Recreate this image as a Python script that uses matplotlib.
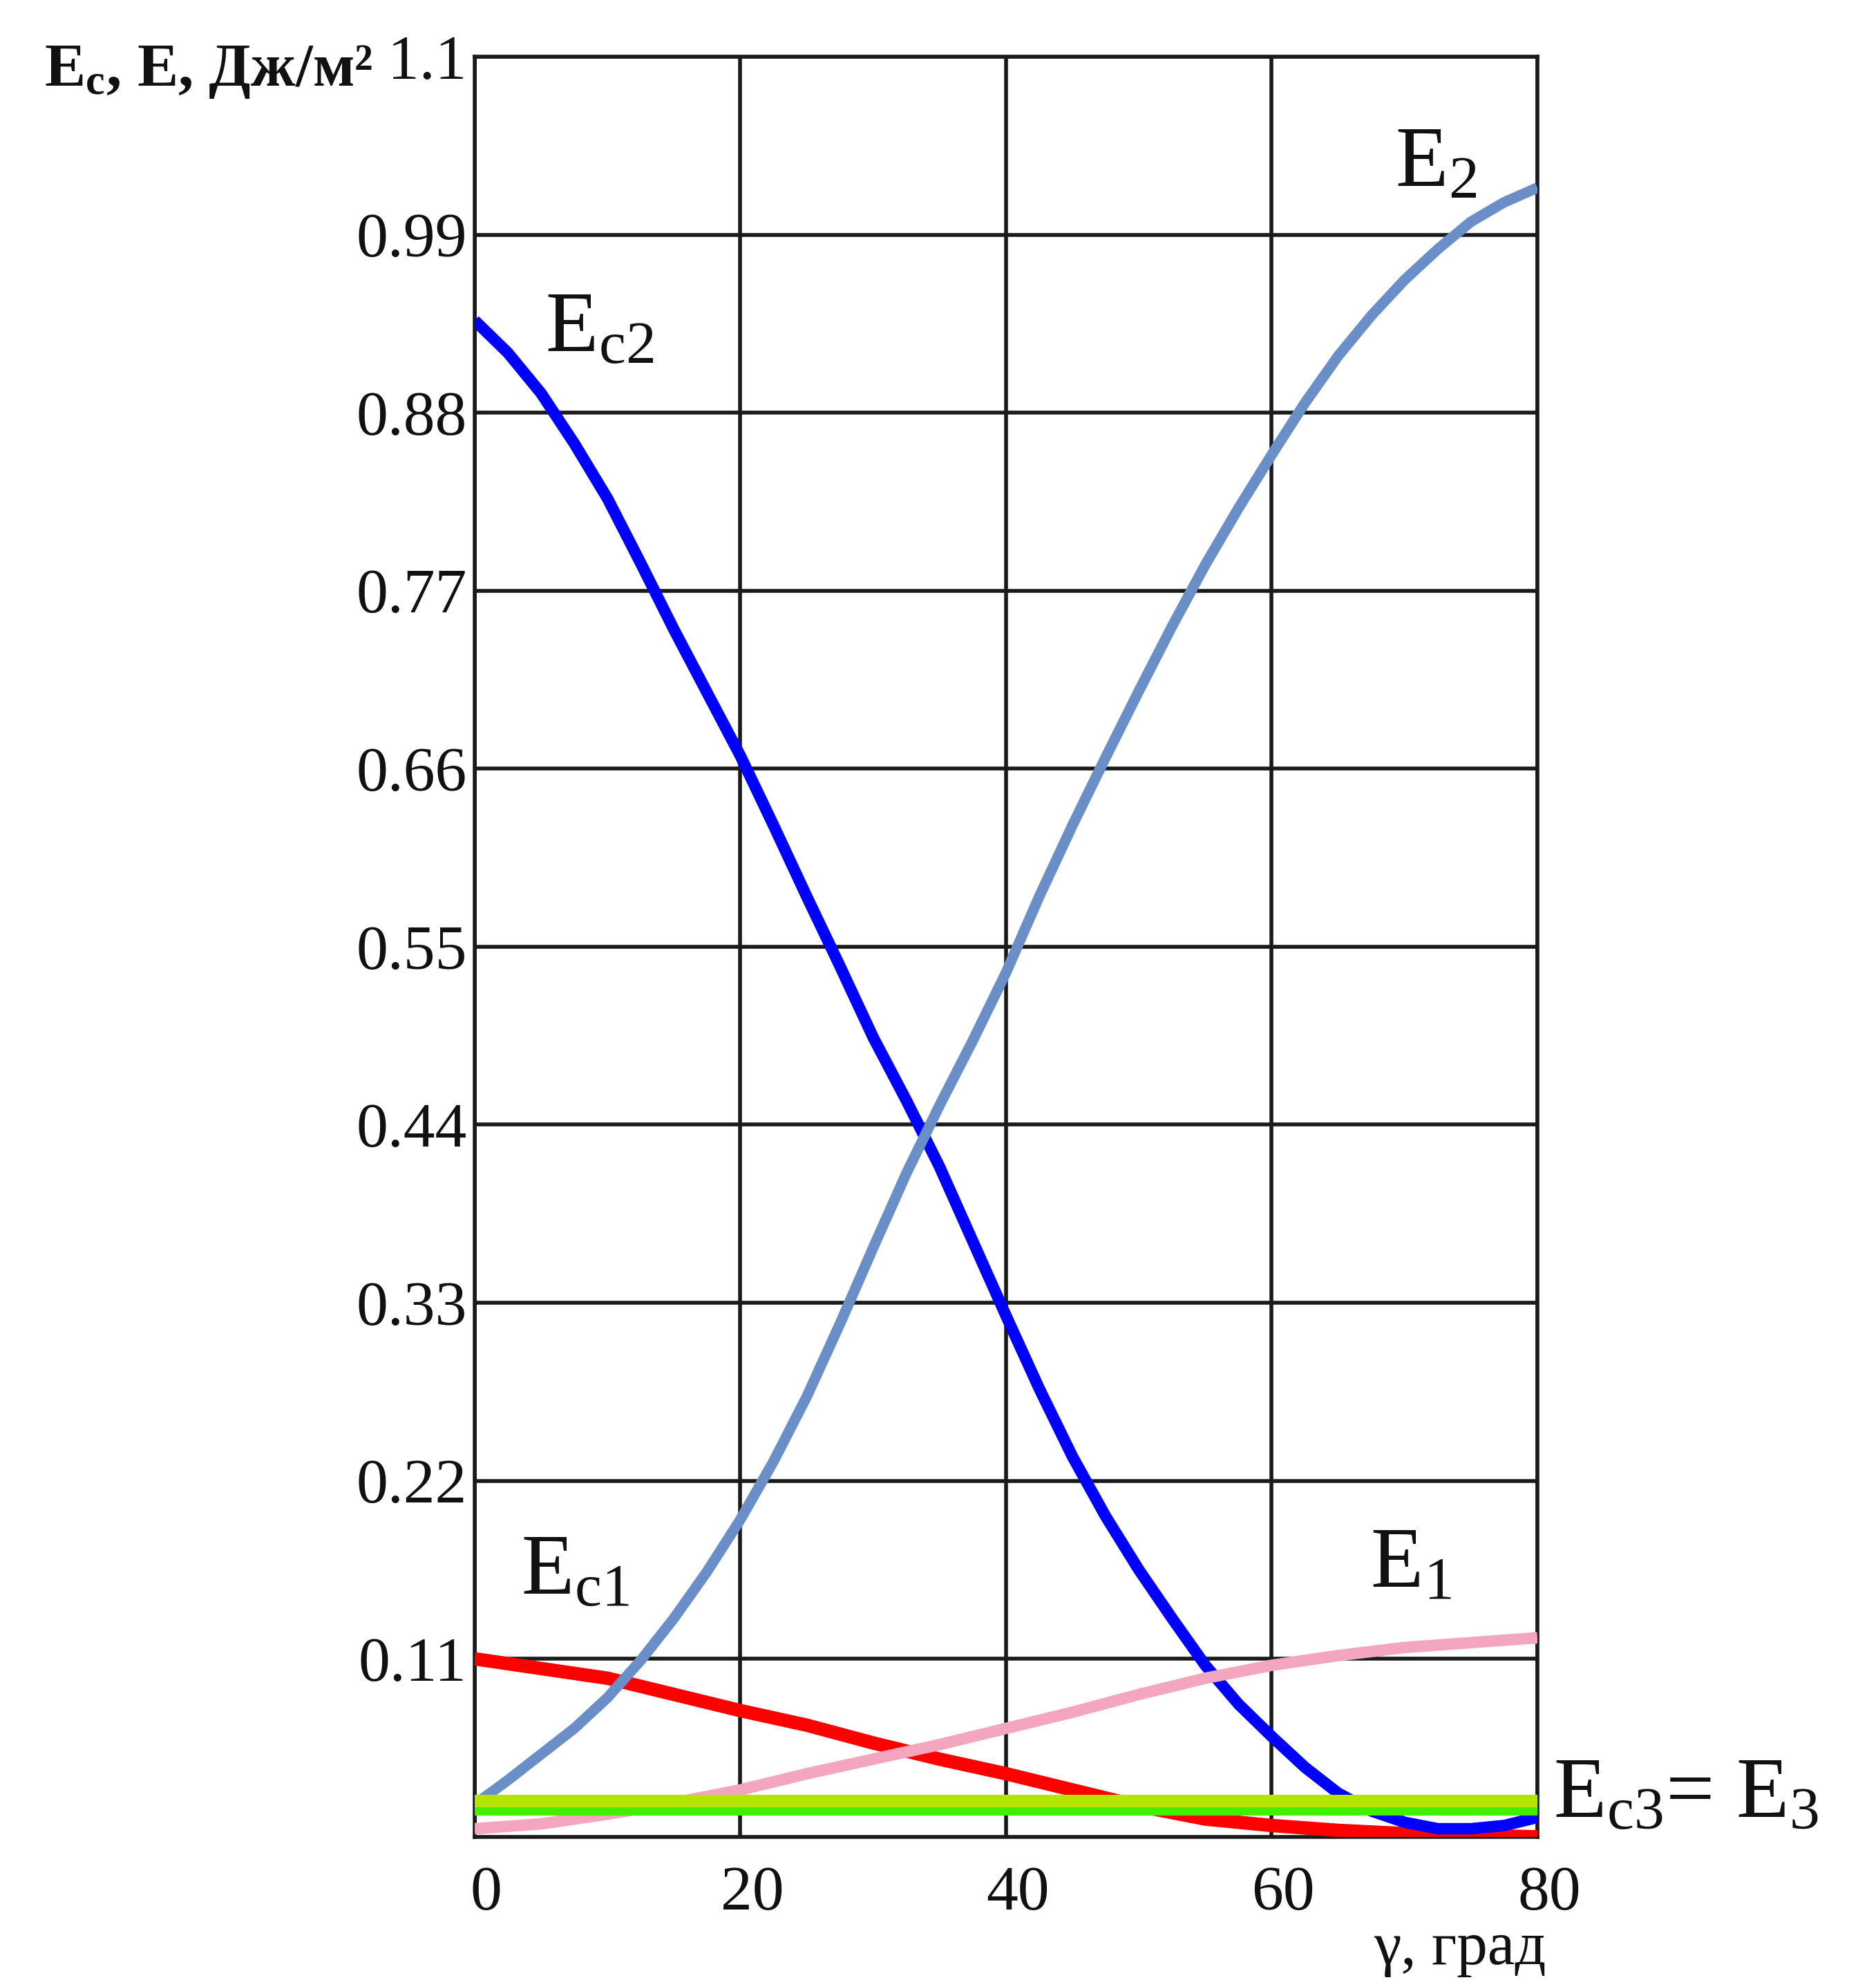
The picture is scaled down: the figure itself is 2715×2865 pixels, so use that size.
import matplotlib
matplotlib.use("Agg")
import matplotlib.pyplot as plt
from matplotlib.transforms import ScaledTranslation

plt.rcParams['font.family'] = ['Liberation Serif', 'DejaVu Serif']
plt.rcParams['mathtext.fontset'] = 'custom'
plt.rcParams['mathtext.rm'] = 'Liberation Serif'
plt.rcParams['mathtext.it'] = 'Liberation Serif'
plt.rcParams['mathtext.bf'] = 'Liberation Serif:bold'

# angle gamma, degrees
gamma_fine = [0, 2.5, 5, 7.5, 10, 12.5, 15, 17.5, 20, 22.5, 25, 27.5, 30,
              32.5, 35, 37.5, 40, 42.5, 45, 47.5, 50, 52.5, 55, 57.5, 60,
              62.5, 65, 67.5, 70, 72.5, 75, 77.5, 80]
gamma = [0, 5, 10, 15, 20, 25, 30, 35, 40, 45, 50, 55, 60, 65, 70, 75, 80]

Ec2 = [0.937, 0.917, 0.892, 0.861, 0.827, 0.787, 0.746, 0.707, 0.668,
       0.625, 0.581, 0.538, 0.494, 0.455, 0.414, 0.368, 0.322, 0.277,
       0.235, 0.198, 0.165, 0.135, 0.106, 0.082, 0.062, 0.043, 0.027,
       0.016, 0.009, 0.005, 0.005, 0.007, 0.012]
E2 = [0.020, 0.035, 0.051, 0.067, 0.086, 0.109, 0.135, 0.164, 0.196,
      0.232, 0.272, 0.317, 0.364, 0.410, 0.452, 0.492, 0.534, 0.581,
      0.625, 0.667, 0.708, 0.748, 0.786, 0.821, 0.854, 0.886, 0.915,
      0.940, 0.962, 0.981, 0.998, 1.010, 1.019]
Ec1 = [0.110, 0.104, 0.098, 0.088, 0.078, 0.069, 0.058, 0.048, 0.039,
       0.029, 0.019, 0.011, 0.007, 0.004, 0.002, 0.001, 0.000]
E1 = [0.005, 0.008, 0.014, 0.021, 0.029, 0.039, 0.048, 0.057, 0.067,
      0.077, 0.088, 0.098, 0.106, 0.112, 0.117, 0.120, 0.123]
Ec3 = [0.017] * len(gamma)
E3 = [0.0222] * len(gamma)

yticks = [0.11, 0.22, 0.33, 0.44, 0.55, 0.66, 0.77, 0.88, 0.99, 1.1]
ytick_labels = ["0.11", "0.22", "0.33", "0.44", "0.55", "0.66", "0.77", "0.88", "0.99", "1.1"]
xticks = [0, 20, 40, 60, 80]

fig = plt.figure(figsize=(27.15, 28.65), dpi=100)
ax = fig.add_axes([0.253, 0.0723, 0.5665, 0.8991])

ax.plot(gamma, Ec1, color='#ff0000', lw=14, solid_capstyle='butt', zorder=3)
ax.plot(gamma_fine, Ec2, color='#0000ff', lw=12, solid_capstyle='butt', zorder=4)
ax.plot(gamma_fine, E2, color='#6a8fc8', lw=11, solid_capstyle='butt', zorder=5)
ax.plot(gamma, E1, color='#f4a6bf', lw=12, solid_capstyle='butt', zorder=6)
ax.plot(gamma, Ec3, color='#44ee00', lw=13, solid_capstyle='butt', zorder=7)
ax.plot(gamma, E3, color='#b4e400', lw=13, solid_capstyle='butt', zorder=8)

ax.set_xlim(0, 80)
ax.set_ylim(0, 1.1)
ax.set_xticks(xticks)
ax.set_yticks(yticks)
ax.set_yticklabels(ytick_labels)
ax.grid(True, color='#1a1a1a', lw=4)
ax.set_axisbelow(True)
for s in ax.spines.values():
    s.set_color('#1a1a1a')
    s.set_linewidth(4)
ax.tick_params(length=0, labelsize=66, colors='#111111')
ax.tick_params(axis='x', pad=30)
ax.tick_params(axis='y', pad=8)
for lab in ax.get_xticklabels():
    lab.set_transform(lab.get_transform() + ScaledTranslation(0.17, 0, fig.dpi_scale_trans))

# curve labels
ax.text(5.3, 0.918, r'$\mathrm{E_{c2}}$', fontsize=90, color='#111111')
ax.text(69.3, 1.02, r'$\mathrm{E_2}$', fontsize=90, color='#111111')
ax.text(3.5, 0.15, r'$\mathrm{E_{c1}}$', fontsize=90, color='#111111')
ax.text(67.4, 0.154, r'$\mathrm{E_1}$', fontsize=90, color='#111111')
ax.text(81.2, 0.012, r'$\mathrm{E_{c3}}$= $\mathrm{E_3}$', fontsize=90,
        color='#111111', clip_on=False)

# axis titles
fig.text(0.0236, 0.9567, r'$\mathbf{E_c}$, E, Дж/м²', fontsize=64,
         fontweight='bold', color='#111111')
fig.text(0.824, 0.008, 'γ, град', fontsize=64, ha='right', color='#111111')

fig.savefig('out.png', dpi=100, facecolor='white')
